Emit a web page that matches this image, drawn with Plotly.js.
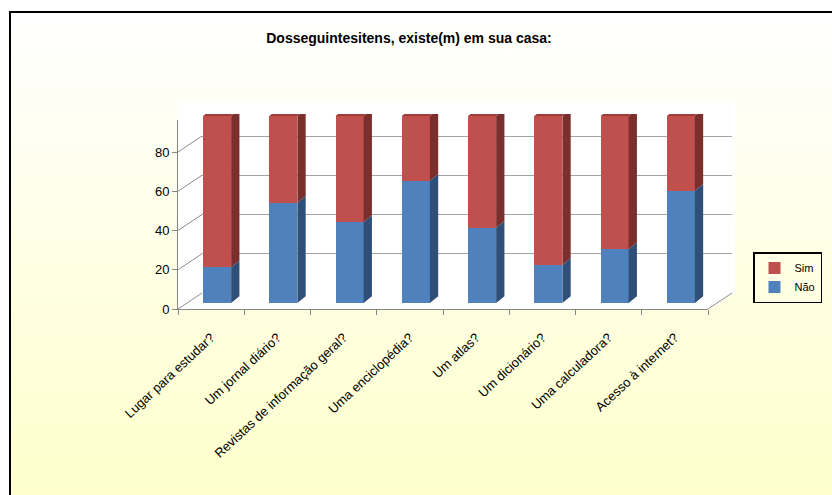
<!DOCTYPE html>
<html>
<head>
<meta charset="utf-8">
<script src="https://cdn.plot.ly/plotly-3.0.1.min.js"></script>
<style>
  html, body { margin: 0; padding: 0; background: #ffffff; overflow: hidden; }
  #wrap { position: relative; width: 832px; height: 495px; overflow: hidden; background: #ffffff; }
  #frame { position: absolute; left: 9px; top: 11px; width: 840px; height: 520px;
           border: 2px solid #000; box-sizing: border-box;
           background: linear-gradient(to bottom, #ffffff 0px, #ffffcc 484px); }
  #chart { position: absolute; left: 0; top: 0; width: 832px; height: 495px; }
</style>
</head>
<body>
<div id="wrap"><div id="frame"></div><div id="chart"></div></div>
<script>
// ---- data ----
const categories = ["Lugar para estudar?", "Um jornal diário?", "Revistas de informação geral?",
                    "Uma enciclopédia?", "Um atlas?", "Um dicionário?", "Uma calculadora?", "Acesso à internet?"];
const nao = [18.2, 51.1, 41.3, 62.3, 38.4, 19.4, 27.4, 57.2];
const sim = [77.1, 44.2, 54.0, 33.0, 56.9, 75.9, 67.9, 38.1];
const yTicks = [0, 20, 40, 60, 80];
const seriesNames = ["Não", "Sim"];

// ---- geometry helpers (pixels -> paper) ----
const W = 832, H = 495;
const fx = p => p / W;
const fy = p => 1 - p / H;
const unitPx = 1.9625;          // pixels per y unit
const yMax = 96.3;
const catPx = 66.25;            // pixels per category
function yDom(zeroPx) { return [fy(zeroPx), fy(zeroPx - yMax * unitPx)]; }

const FONT = "Liberation Sans, Arial, sans-serif";
const colors = {
  naoFront: "#4f81bd", naoSide: "#2f4e78",
  simFront: "#c0504d", simSide: "#7b2f2d", simTop: "#9e3c3a"
};

// ---- 3D faces (side / top), built from data ----
const hw = 14 / catPx, dx = 8.3 / catPx, dy = 6.7 / unitPx;
const shapes = [];
// white wall + floor
shapes.push({
  type: "path", xref: "paper", yref: "paper", layer: "below",
  path: `M ${fx(178)},${fy(100)} L ${fx(735)},${fy(100)} L ${fx(735)},${fy(293)} L ${fx(708)},${fy(310)} L ${fx(178)},${fy(310)} Z`,
  fillcolor: "#ffffff", line: { width: 0 }
});
// depth connectors at y ticks (front axis to back wall)
yTicks.forEach(v => {
  shapes.push({ type: "line", xref: "paper", yref: "y3", x0: fx(178), x1: fx(202), y0: v, y1: v + 16 / unitPx,
                line: { color: "#8c8c8c", width: 1 } });
});
shapes.push({ type: "line", xref: "paper", yref: "y3", x0: fx(708), x1: fx(732), y0: 0, y1: 16 / unitPx,
              line: { color: "#8c8c8c", width: 1 } });
categories.forEach((c, i) => {
  const a = nao[i], t = nao[i] + sim[i];
  const xr = i + hw;
  shapes.push({ type: "path", xref: "x2", yref: "y2", line: { width: 0 }, fillcolor: colors.naoSide,
    path: `M ${xr},0 L ${xr + dx},${dy} L ${xr + dx},${a + dy} L ${xr},${a} Z` });
  shapes.push({ type: "path", xref: "x2", yref: "y2", line: { width: 0 }, fillcolor: colors.simSide,
    path: `M ${xr},${a} L ${xr + dx},${a + dy} L ${xr + dx},${t + dy} L ${xr},${t} Z` });
  shapes.push({ type: "path", xref: "x2", yref: "y2", line: { width: 0 }, fillcolor: colors.simTop,
    path: `M ${i - hw},${t} L ${xr},${t} L ${xr + dx},${t + dy} L ${i - hw + dx},${t + dy} Z` });
});

// ---- traces ----
const traces = [
  // back-wall grid helper
  { type: "scatter", x: [0], y: [0], xaxis: "x", yaxis: "y", mode: "markers",
    marker: { opacity: 0 }, showlegend: false, hoverinfo: "skip" },
  { type: "bar", name: seriesNames[0], x: categories, y: nao, xaxis: "x2", yaxis: "y2",
    width: 2 * hw, marker: { color: colors.naoFront, line: { width: 0 } } },
  { type: "bar", name: seriesNames[1], x: categories, y: sim, xaxis: "x2", yaxis: "y2",
    width: 2 * hw, marker: { color: colors.simFront, line: { width: 0 } } },
  // front axes helper
  { type: "scatter", x: categories, y: categories.map(() => 0), xaxis: "x3", yaxis: "y3", mode: "markers",
    marker: { opacity: 0 }, showlegend: false, hoverinfo: "skip" }
];

const layout = {
  width: W, height: H, autosize: false,
  margin: { l: 0, r: 0, t: 0, b: 0, pad: 0, autoexpand: false },
  paper_bgcolor: "rgba(0,0,0,0)", plot_bgcolor: "rgba(0,0,0,0)",
  font: { family: FONT, size: 12, color: "#000" },
  barmode: "stack",
  showlegend: true,
  title: { text: "<b>Dosseguintesitens, existe(m) em sua casa:</b>", x: fx(409), xanchor: "center",
           y: fy(38), yanchor: "middle", font: { family: FONT, size: 14, color: "#000" } },
  legend: { x: fx(822), y: fy(252), xanchor: "right", yanchor: "top", traceorder: "reversed",
            bgcolor: "rgba(0,0,0,0)", bordercolor: "#000", borderwidth: 1.5,
            font: { family: FONT, size: 11, color: "#000" }, itemwidth: 30 },
  // back wall (grid)
  xaxis: { domain: [fx(202), fx(732)], range: [0, 1], visible: false, fixedrange: true, anchor: "y" },
  yaxis: { domain: yDom(293), range: [0, yMax], anchor: "x", tickmode: "array", tickvals: yTicks,
           showticklabels: false, ticks: "", showgrid: true, gridcolor: "#a3a3a3", gridwidth: 1,
           zeroline: false, showline: false, fixedrange: true },
  // bars
  xaxis2: { domain: [fx(184), fx(714)], type: "category", range: [-0.5, 7.5], visible: false, anchor: "y2" },
  yaxis2: { domain: yDom(303), range: [0, yMax], visible: false, anchor: "x2" },
  // front axes
  xaxis3: { domain: [fx(178), fx(708)], type: "category", range: [-0.5, 7.5], anchor: "y3",
            showline: true, linecolor: "#868686", linewidth: 1, ticks: "outside", tickson: "boundaries",
            ticklen: 5, tickcolor: "#868686", tickangle: -43, showgrid: false, zeroline: false,
            ticklabelstandoff: 15,
            tickfont: { family: FONT, size: 13, color: "#000" } },
  yaxis3: { domain: yDom(309), range: [0, yMax], anchor: "x3", tickmode: "array", tickvals: yTicks,
            showline: true, linecolor: "#868686", linewidth: 1, ticks: "outside", ticklen: 5,
            tickcolor: "#868686", showgrid: false, zeroline: false,
            tickfont: { family: FONT, size: 13, color: "#000" } },
  shapes: shapes
};

Plotly.newPlot("chart", traces, layout, { staticPlot: true, displayModeBar: false });
</script>
</body>
</html>
